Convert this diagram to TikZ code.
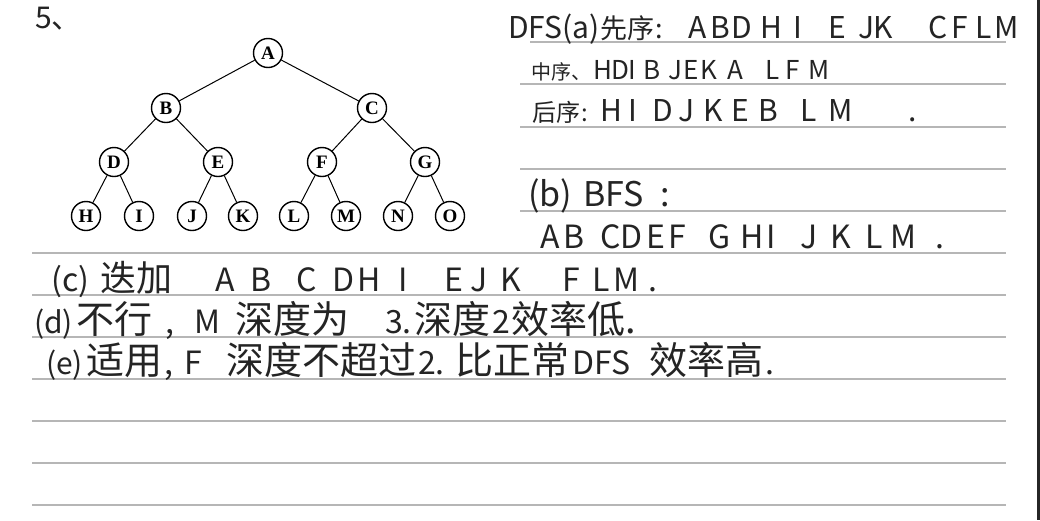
\documentclass[tikz,border=0pt]{standalone}
\usepackage{fontspec}
\newfontfamily\hand{Noto Sans CJK SC}
\newfontfamily\treefont{Liberation Serif}
\definecolor{ink}{RGB}{36,36,36}
\definecolor{notegray}{RGB}{182,182,182}
\tikzset{
  vertex/.style={circle, draw, line width=1.4pt, minimum size=29pt, inner sep=0pt,
    font=\treefont\bfseries\fontsize{19}{19}\selectfont},
  edge/.style={line width=1pt},
  ruleline/.style={notegray, line width=1.8pt},
  hand/.style={ink, anchor=base west, inner sep=0pt, font=\hand\fontsize{#1}{#1}\selectfont},
  hand/.default=30,
}
\begin{document}
\begin{tikzpicture}[x=1pt, y=-1pt]
  \useasboundingbox (0,0) rectangle (1040,520);
  \fill[white] (0,0) rectangle (1040,520);

  % ruled paper
  \draw[ruleline] (530,42) -- (1006,42);
  \foreach \y in {84,127,169,211}
    \draw[ruleline] (520,\y) -- (1006,\y);
  \foreach \y in {253,295,337,379,421,463,505}
    \draw[ruleline] (32,\y) -- (1006,\y);
  \fill[black!85] (1037,0) rectangle (1040,520);

  % the tree
  \node[vertex] (A) at (268,53) {A};
  \node[vertex] (B) at (166,108) {B};
  \node[vertex] (C) at (372,108) {C};
  \node[vertex] (D) at (114,162) {D};
  \node[vertex] (E) at (218,162) {E};
  \node[vertex] (F) at (322,162) {F};
  \node[vertex] (G) at (425,162) {G};
  \node[vertex] (H) at (86,216) {H};
  \node[vertex] (I) at (139,216) {I};
  \node[vertex] (J) at (192,216) {J};
  \node[vertex] (K) at (243,216) {K};
  \node[vertex] (L) at (294,216) {L};
  \node[vertex] (M) at (346,216) {M};
  \node[vertex] (N) at (398,216) {N};
  \node[vertex] (O) at (450,216) {O};
  \draw[edge] (A) -- (B) (A) -- (C);
  \draw[edge] (B) -- (D) (B) -- (E) (C) -- (F) (C) -- (G);
  \draw[edge] (D) -- (H) (D) -- (I) (E) -- (J) (E) -- (K);
  \draw[edge] (F) -- (L) (F) -- (M) (G) -- (N) (G) -- (O);

  % notes
  \node[hand=30] (five) at (35,28) {5、};

  \node[hand=30] (dfs) at (508,38) {DFS(a)};
  \node[hand=27] (pre) at (600,38) {先序};
  \node[hand=27] (pre-colon) at (655,38) {:};
  \foreach \x/\t in {688/A,710/B,731/D,760/H,793/I,828/E,858/J,873/K,928/C,951/F,975/L,994/M}
    \node[hand=30] (pre-\t) at (\x,38) {\t};

  \node[hand=20] (in) at (531,79) {中序、};
  \foreach \x/\t in {593/H,611/D,628/I,643/B,668/J,683/E,700/K,727/A,765/L,785/F,808/M}
    \node[hand=26] (in-\t) at (\x,79) {\t};

  \node[hand=24] (post) at (532,121) {后序};
  \node[hand=24] (post-colon) at (581,121) {:};
  \foreach \x/\t in {600/H,628/I,652/D,678/J,703/K,731/E,758/B,800/L,828/M}
    \node[hand=30] (post-\t) at (\x,121) {\t};
  \node[hand=30] (post-end) at (908,121) {.};

  \node[hand=34] (bfs) at (528,206) {(b)};
  \node[hand=34] (bfs-name) at (583,206) {BFS};
  \node[hand=34] (bfs-colon) at (660,206) {:};
  \foreach \x/\t in {540/A,563/B,600/C,620/D,646/E,668/F,708/G,740/H,766/I,800/J,830/K,865/L,890/M}
    \node[hand=32] (bfs-\t) at (\x,248) {\t};
  \node[hand=32] (bfs-end) at (935,248) {.};

  \node[hand=32] (ids) at (51,291) {(c)};
  \node[hand=36] (ids-name) at (100,291) {迭加};
  \foreach \x/\t in {215/A,250/B,296/C,332/D,357/H,398/I,444/E,470/J,500/K,562/F,592/L,613/M}
    \node[hand=32] (ids-\t) at (\x,291) {\t};
  \node[hand=32] (ids-end) at (648,291) {.};

  \node[hand=30] (dls) at (34,333) {(d)};
  \node[hand=38] (dls-a) at (76,333) {不行};
  \node[hand=32] (dls-b) at (165,333) {,};
  \node[hand=32] (dls-c) at (194,333) {M};
  \node[hand=38] (dls-d) at (235,333) {深度为};
  \node[hand=32] (dls-e) at (385,333) {3.};
  \node[hand=38] (dls-f) at (414,333) {深度};
  \node[hand=32] (dls-g) at (492,333) {2};
  \node[hand=38] (dls-h) at (511,333) {效率低.};

  \node[hand=30] (idd) at (46,374) {(e)};
  \node[hand=38] (idd-a) at (86,374) {适用};
  \node[hand=32] (idd-b) at (164,374) {,};
  \node[hand=32] (idd-c) at (184,374) {F};
  \node[hand=38] (idd-d) at (226,374) {深度不超过};
  \node[hand=32] (idd-e) at (418,374) {2.};
  \node[hand=38] (idd-f) at (455,374) {比正常};
  \node[hand=32] (idd-g) at (572,374) {DFS};
  \node[hand=38] (idd-h) at (649,374) {效率高};
  \node[hand=32] (idd-i) at (765,374) {.};
\end{tikzpicture}
\end{document}
